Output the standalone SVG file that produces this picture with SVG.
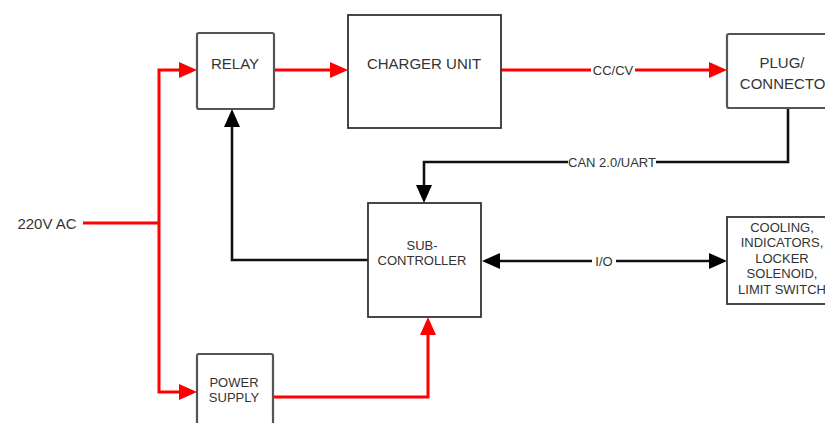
<svg xmlns="http://www.w3.org/2000/svg" width="825" height="423" viewBox="0 0 825 423">
  <style>
    .box { fill: #ffffff; stroke: #555555; stroke-width: 2.2; }
    .box-dark { fill: #ffffff; stroke: #333333; stroke-width: 1.8; }
    .lbl { font-family: "Liberation Sans", Arial, sans-serif; fill: #333333; text-anchor: middle; }
    .big { font-size: 15px; }
    .small { font-size: 13px; }
    .power { fill: none; stroke: #ff0000; stroke-width: 3; }
    .signal { fill: none; stroke: #111111; stroke-width: 2.6; }
    .tag { fill: #ffffff; }
  </style>
  <defs>
    <marker id="arrow-red" markerUnits="userSpaceOnUse" viewBox="0 0 18 16" markerWidth="18" markerHeight="16" refX="10" refY="8" orient="auto">
      <path d="M0,0 L18,8 L0,16 Z" fill="#ff0000"/>
    </marker>
    <marker id="arrow-black" markerUnits="userSpaceOnUse" viewBox="0 0 18 16" markerWidth="18" markerHeight="16" refX="10" refY="8" orient="auto-start-reverse">
      <path d="M0,0 L18,8 L0,16 Z" fill="#000000"/>
    </marker>
  </defs>

  <rect width="825" height="423" fill="#ffffff"/>

  <!-- mains input label -->
  <text class="lbl big" x="47" y="229">220V AC</text>

  <g id="connectors">
    <!-- 220V AC feed and distribution bus -->
    <path class="power" d="M83,223 H159"/>
    <path class="power" d="M159,223 V70 H189" marker-end="url(#arrow-red)"/>
    <path class="power" d="M159,223 V392 H189" marker-end="url(#arrow-red)"/>
    <!-- relay to charger -->
    <path class="power" d="M274,70 H340" marker-end="url(#arrow-red)"/>
    <!-- charger output CC/CV -->
    <path class="power" d="M501,70 H719" marker-end="url(#arrow-red)"/>
    <rect class="tag" x="591" y="63" width="44" height="14"/>
    <text class="lbl small" x="613" y="75">CC/CV</text>
    <!-- connector to sub-controller bus -->
    <path class="signal" d="M788,108 V162 H424 V195" marker-end="url(#arrow-black)"/>
    <rect class="tag" x="568" y="155" width="88" height="14"/>
    <text class="lbl small" x="612" y="167">CAN 2.0/UART</text>
    <!-- sub-controller driving relay -->
    <path class="signal" d="M368,260 H232 V117" marker-end="url(#arrow-black)"/>
    <!-- I/O link -->
    <path class="signal" d="M490,261 H719" marker-start="url(#arrow-black)" marker-end="url(#arrow-black)"/>
    <rect class="tag" x="592" y="254" width="24" height="14"/>
    <text class="lbl small" x="604" y="266">I/O</text>
    <!-- power supply to sub-controller -->
    <path class="power" d="M273,397 H428 V325" marker-end="url(#arrow-red)"/>
  </g>

  <g id="relay">
    <rect class="box" x="197" y="33" width="77" height="76" rx="2"/>
    <text class="lbl big" x="235" y="69">RELAY</text>
  </g>

  <g id="charger-unit">
    <rect class="box-dark" x="348" y="15" width="153" height="113"/>
    <text class="lbl big" x="424" y="69">CHARGER UNIT</text>
  </g>

  <g id="plug-connector">
    <rect class="box" x="727" y="34" width="122" height="74" rx="2"/>
    <text class="lbl big" x="782" y="68">PLUG/</text>
    <text class="lbl big" x="788" y="89">CONNECTOR</text>
  </g>

  <g id="sub-controller">
    <rect class="box-dark" x="368" y="203" width="113" height="114"/>
    <text class="lbl small" x="422" y="250">SUB-</text>
    <text class="lbl small" x="422" y="265">CONTROLLER</text>
  </g>

  <g id="peripherals">
    <rect class="box-dark" x="727" y="217" width="112" height="87"/>
    <text class="lbl small" x="782" y="232">COOLING,</text>
    <text class="lbl small" x="782" y="247">INDICATORS,</text>
    <text class="lbl small" x="782" y="263">LOCKER</text>
    <text class="lbl small" x="782" y="278">SOLENOID,</text>
    <text class="lbl small" x="782" y="294">LIMIT SWITCH</text>
  </g>

  <g id="power-supply">
    <rect class="box" x="197" y="354" width="76" height="90" rx="2"/>
    <text class="lbl small" x="234" y="387">POWER</text>
    <text class="lbl small" x="234" y="402">SUPPLY</text>
  </g>
</svg>
